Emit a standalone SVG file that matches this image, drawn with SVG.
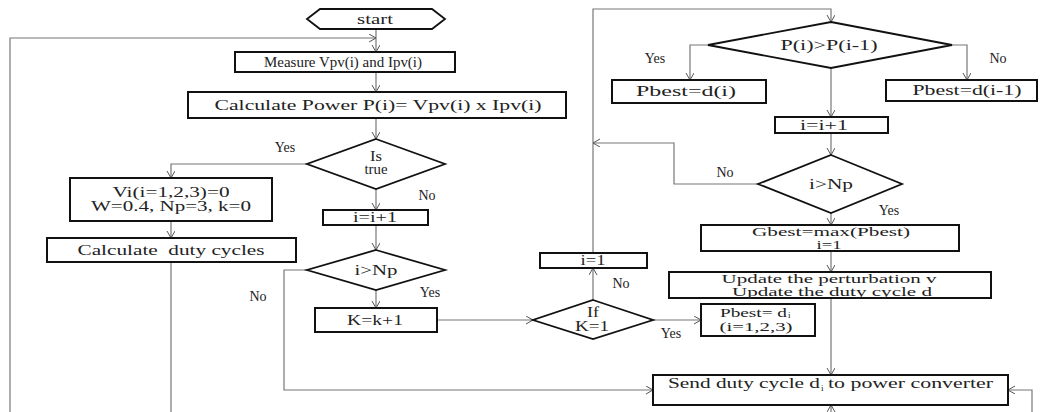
<svg xmlns="http://www.w3.org/2000/svg" width="1040" height="412" viewBox="0 0 1040 412">
<defs>
<marker id="arr" markerWidth="10" markerHeight="10" refX="7" refY="4" orient="auto" markerUnits="userSpaceOnUse">
<path d="M0,0 L7,4 L0,8" fill="none" stroke="#555" stroke-width="1"/>
</marker>
<style>
.box{fill:#fff;stroke:#111;stroke-width:2}
.dia{fill:#fff;stroke:#111;stroke-width:1.8}
.c{fill:none;stroke:#777;stroke-width:1.2}
.ca{fill:none;stroke:#777;stroke-width:1.2;marker-end:url(#arr)}
text{font-family:"Liberation Serif","Times New Roman",serif;font-size:14px;fill:#222}
.m{text-anchor:middle}
.s{font-size:13px}
.sub{font-size:9px}
.lb{font-size:14px}
</style>
</defs>
<rect width="1040" height="412" fill="#fff"/>

<g id="connectors">
<path class="ca" d="M376,29 V52"/>
<path class="ca" d="M10,412 V38 H376"/>
<path class="ca" d="M376,72 V92"/>
<path class="ca" d="M376,118 V139"/>
<path class="ca" d="M307,164 H171 V178"/>
<path class="ca" d="M171,221 V238"/>
<path class="c" d="M171,262 V412"/>
<path class="ca" d="M376,189 V210"/>
<path class="ca" d="M376,225 V250"/>
<path class="ca" d="M307,270 H284 V390 H653"/>
<path class="ca" d="M376,290 V308"/>
<path class="ca" d="M437,320 H533"/>
<path class="ca" d="M653,320 H701"/>
<path class="ca" d="M593,300 V268"/>
<path class="ca" d="M593,253 V9 H831 V22"/>
<path class="ca" d="M708,45 H690 V80"/>
<path class="ca" d="M952,45 H967 V80"/>
<path class="ca" d="M831,68 V117"/>
<path class="ca" d="M831,133 V155"/>
<path class="ca" d="M758,184 H674 V143 H593"/>
<path class="ca" d="M831,213 V225"/>
<path class="ca" d="M831,251 V272"/>
<path class="ca" d="M831,298 V375"/>
<path class="ca" d="M1032,412 V390 H1008"/>
<path class="ca" d="M831,412 V405"/>
</g>

<g id="start">
<polygon class="dia" points="307,19 320,9 432,9 445,19 432,29 320,29"/>
<text class="m" x="375" y="24" textLength="36" lengthAdjust="spacingAndGlyphs">start</text>
</g>
<g id="measure">
<rect class="box" x="235" y="52" width="220" height="20"/>
<text class="m" x="343" y="67" textLength="158" lengthAdjust="spacingAndGlyphs">Measure Vpv(i) and Ipv(i)</text>
</g>
<g id="power">
<rect class="box" x="188" y="92" width="378" height="26"/>
<text class="m" x="378" y="110" textLength="327" lengthAdjust="spacingAndGlyphs">Calculate Power P(i)= Vpv(i) x Ipv(i)</text>
</g>
<g id="istrue">
<polygon class="dia" points="376,139 445,164 376,189 307,164"/>
<text class="m" x="376" y="161" textLength="12" lengthAdjust="spacingAndGlyphs">Is</text>
<text class="m" x="376" y="174" textLength="23" lengthAdjust="spacingAndGlyphs">true</text>
</g>
<g id="init">
<rect class="box" x="70" y="178" width="202" height="43"/>
<text class="m" x="171" y="197" textLength="117" lengthAdjust="spacingAndGlyphs">Vi(i=1,2,3)=0</text>
<text class="m" x="171" y="211" textLength="160" lengthAdjust="spacingAndGlyphs">W=0.4, Np=3, k=0</text>
</g>
<g id="dutycycles">
<rect class="box" x="47" y="238" width="249" height="24"/>
<text class="m" x="171" y="255" textLength="187" lengthAdjust="spacingAndGlyphs" xml:space="preserve">Calculate  duty cycles</text>
</g>
<g id="inc1">
<rect class="box" x="323" y="210" width="105" height="15"/>
<text class="m" x="375" y="222" textLength="44" lengthAdjust="spacingAndGlyphs">i=i+1</text>
</g>
<g id="np1">
<polygon class="dia" points="376,250 445,270 376,290 307,270"/>
<text class="m" x="376" y="275" textLength="43" lengthAdjust="spacingAndGlyphs">i&gt;Np</text>
</g>
<g id="kinc">
<rect class="box" x="315" y="308" width="122" height="24"/>
<text class="m" x="375" y="325" textLength="56" lengthAdjust="spacingAndGlyphs">K=k+1</text>
</g>
<g id="ifk">
<polygon class="dia" points="593,300 653,320 593,339 533,320"/>
<text class="m" x="593" y="317" textLength="12" lengthAdjust="spacingAndGlyphs">If</text>
<text class="m" x="592" y="331" textLength="34" lengthAdjust="spacingAndGlyphs">K=1</text>
</g>
<g id="pbestinit">
<rect class="box" x="701" y="304" width="114" height="32"/>
<text class="s" x="720" y="317" textLength="67" lengthAdjust="spacingAndGlyphs">Pbest= d</text><text class="sub" x="788" y="318">i</text>
<text class="m s" x="756" y="331" textLength="73" lengthAdjust="spacingAndGlyphs">(i=1,2,3)</text>
</g>
<g id="ireset">
<rect class="box" x="540" y="253" width="107" height="15"/>
<text class="m" x="593" y="265" textLength="25" lengthAdjust="spacingAndGlyphs">i=1</text>
</g>
<g id="pcompare">
<polygon class="dia" points="831,22 952,45 831,68 708,45"/>
<text class="m" x="829" y="50" textLength="97" lengthAdjust="spacingAndGlyphs">P(i)&gt;P(i-1)</text>
</g>
<g id="pbestd">
<rect class="box" x="612" y="80" width="154" height="23"/>
<text class="m" x="686" y="96" textLength="100" lengthAdjust="spacingAndGlyphs">Pbest=d(i)</text>
</g>
<g id="pbestd1">
<rect class="box" x="886" y="80" width="151" height="21"/>
<text class="m" x="967" y="95" textLength="109" lengthAdjust="spacingAndGlyphs">Pbest=d(i-1)</text>
</g>
<g id="inc2">
<rect class="box" x="775" y="117" width="113" height="16"/>
<text class="m" x="824" y="130" textLength="48" lengthAdjust="spacingAndGlyphs">i=i+1</text>
</g>
<g id="np2">
<polygon class="dia" points="831,155 902,184 831,213 758,184"/>
<text class="m" x="831" y="189" textLength="44" lengthAdjust="spacingAndGlyphs">i&gt;Np</text>
</g>
<g id="gbest">
<rect class="box" x="701" y="225" width="258" height="26"/>
<text class="m s" x="831" y="236" textLength="158" lengthAdjust="spacingAndGlyphs">Gbest=max(Pbest)</text>
<text class="m s" x="829" y="249" textLength="25" lengthAdjust="spacingAndGlyphs">i=1</text>
</g>
<g id="update">
<rect class="box" x="669" y="272" width="322" height="26"/>
<text class="m s" x="829" y="283" textLength="215" lengthAdjust="spacingAndGlyphs">Update the perturbation v</text>
<text class="m s" x="832" y="296" textLength="200" lengthAdjust="spacingAndGlyphs">Update the duty cycle d</text>
</g>
<g id="send">
<rect class="box" x="653" y="375" width="355" height="30"/>
<text x="668" y="388" textLength="152" lengthAdjust="spacingAndGlyphs">Send duty cycle d</text><text class="sub" x="821" y="391">i</text>
<text x="828" y="388" textLength="165" lengthAdjust="spacingAndGlyphs">to power converter</text>
</g>

<g id="labels">
<text class="m lb" x="285" y="152">Yes</text>
<text class="m lb" x="427" y="200">No</text>
<text class="m lb" x="258" y="301">No</text>
<text class="m lb" x="430" y="297">Yes</text>
<text class="m lb" x="671" y="338">Yes</text>
<text class="m lb" x="621" y="288">No</text>
<text class="m lb" x="655" y="63">Yes</text>
<text class="m lb" x="998" y="63">No</text>
<text class="m lb" x="725" y="177">No</text>
<text class="m lb" x="889" y="215">Yes</text>
</g>
</svg>
